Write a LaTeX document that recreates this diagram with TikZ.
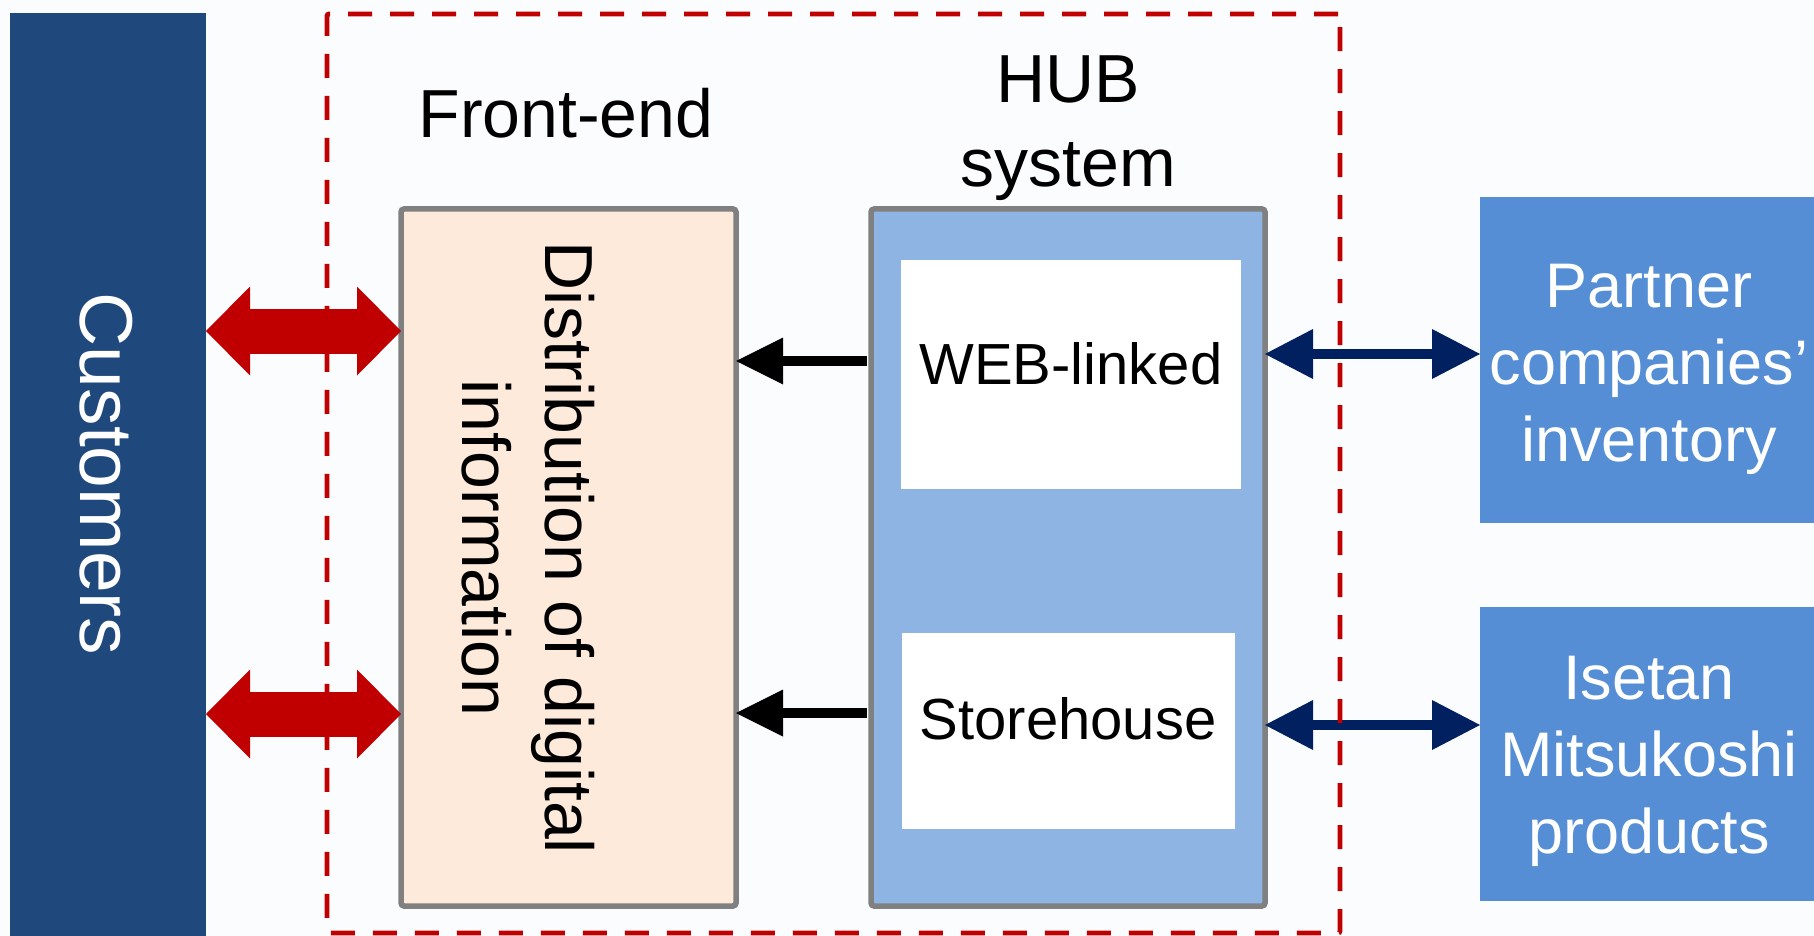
\documentclass[tikz,border=0pt]{standalone}
\usepackage{fontspec}
\setmainfont{Liberation Sans}
\usetikzlibrary{arrows.meta,fit}
\definecolor{custblue}{HTML}{1F497D}
\definecolor{hubred}{HTML}{C00000}
\definecolor{frontfill}{HTML}{FDEADA}
\definecolor{hubfill}{HTML}{8EB4E3}
\definecolor{sidefill}{HTML}{558ED5}
\definecolor{navyarr}{HTML}{002060}
\definecolor{boxgray}{HTML}{808080}
\definecolor{bgcol}{HTML}{FBFCFE}
\begin{document}
\begin{tikzpicture}[x=0.5pt,y=-0.5pt,
  panel/.style={rectangle, inner sep=0pt, outer sep=0pt},
  custbox/.style={panel, fill=custblue},
  framebox/.style={panel, draw=boxgray, line width=2.75pt, rounded corners=1.5pt},
  frontbox/.style={framebox, fill=frontfill},
  hubbox/.style={framebox, fill=hubfill},
  innerbox/.style={panel, fill=white},
  sidebox/.style={panel, fill=sidefill},
  dashframe/.style={panel, draw=hubred, line width=2.4pt, rounded corners=1pt, dash pattern=on 12pt off 9pt},
  headtext/.style={font=\fontsize{34}{42}\selectfont, align=center, inner sep=0pt},
  custtext/.style={font=\fontsize{37.5}{44}\selectfont, text=white, rotate=-90, inner sep=0pt},
  disttext/.style={font=\fontsize{34}{41.5}\selectfont, align=center, rotate=-90, inner sep=0pt},
  innertext/.style={font=\fontsize{29}{35}\selectfont, inner sep=0pt},
  sidetext/.style={font=\fontsize{31.5}{38.5}\selectfont, text=white, align=center, inner sep=0pt},
  redarrow/.style={draw=hubred, line width=22.5pt,
    arrows={Triangle[length=22pt,width=44.5pt,line width=0pt]-Triangle[length=22pt,width=44.5pt,line width=0pt]}},
  blackarrow/.style={draw=black, line width=5pt,
    arrows={-Triangle[length=23.5pt,width=23.5pt,line width=0pt]}},
  navyarrow/.style={draw=navyarr, line width=5pt,
    arrows={Triangle[length=24pt,width=25pt,line width=0pt]-Triangle[length=24pt,width=25pt,line width=0pt]}},
]
\useasboundingbox (0,0) rectangle (1814,936);
\path[clip] (0,0) rectangle (1814,936);
\fill[bgcol] (0,0) rectangle (1814,936);

% boxes
\node[custbox, fit={(10,13) (206,945)}] (cust) {};
\node[frontbox, fit={(401,209) (736,906)}] (front) {};
\node[hubbox, fit={(871,209) (1265,906)}] (hub) {};
\node[innerbox, fit={(901,260) (1241,489)}] (web) {};
\node[innerbox, fit={(902,633) (1235,829)}] (store) {};
\node[sidebox, fit={(1480,197) (1818,523)}] (partner) {};
\node[sidebox, fit={(1480,607) (1818,901)}] (isetan) {};

% texts
\node[custtext] (custlabel) at (106,474) {Customers};
\node[headtext, anchor=base] (frontlabel) at (566,138) {Front-end};
\node[headtext] (hublabel) at (1068,128) {HUB\\system};
\node[disttext] (distlabel) at (528,548) {Distribution of digital\\information};
\node[innertext, anchor=base] (weblabel) at (1071,384) {WEB-linked};
\node[innertext, anchor=base] (storelabel) at (1068,739) {Storehouse};
\node[sidetext] (partnerlabel) at (1649,369) {Partner\\companies’\\inventory};
\node[sidetext] (isetanlabel) at (1649,761) {Isetan\\Mitsukoshi\\products};

% arrow levels
\coordinate (ra) at (0,331);
\coordinate (rb) at (0,714);
\coordinate (ba) at (0,361);
\coordinate (bb) at (0,713);
\coordinate (na) at (0,354);
\coordinate (nb) at (0,725);

\draw[redarrow] (cust.east |- ra) -- (front.west |- ra);
\draw[redarrow] (cust.east |- rb) -- (front.west |- rb);
\draw[blackarrow] (hub.west |- ba) ++(-4,0) -- (front.east |- ba);
\draw[blackarrow] (hub.west |- bb) ++(-4,0) -- (front.east |- bb);
\draw[navyarrow] (hub.east |- na) -- (partner.west |- na);
\draw[navyarrow] (hub.east |- nb) -- (isetan.west |- nb);

% dashed HUB frame
\node[dashframe, fit={(327,14) (1340,933)}] (frame) {};
\end{tikzpicture}
\end{document}
